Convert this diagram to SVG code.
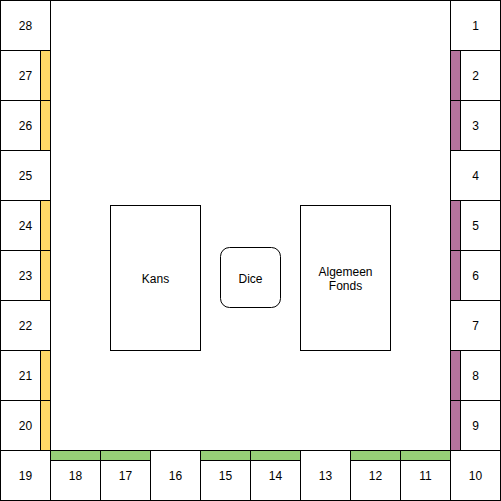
<svg xmlns="http://www.w3.org/2000/svg" width="501" height="501" viewBox="0 0 501 501">
<style>
rect{stroke:#000;stroke-width:1}
.c{fill:#fff}
.y{fill:#FFD966}
.p{fill:#B5739D}
.g{fill:#97D077}
text{font-family:"Liberation Sans",Arial,sans-serif;font-size:12px;fill:#000;text-anchor:middle}
</style>
<rect id="board" x="0.5" y="0.5" width="500" height="500" fill="#fff"/>
<g id="cells">
<g id="c28"><rect class="c" x="0.5" y="0.5" width="50" height="50"/><text x="25.5" y="29.5">28</text></g>
<g id="c27"><rect class="c" x="0.5" y="50.5" width="50" height="50"/><rect class="y" x="40.5" y="50.5" width="10" height="50"/><text x="25.5" y="79.5">27</text></g>
<g id="c26"><rect class="c" x="0.5" y="100.5" width="50" height="50"/><rect class="y" x="40.5" y="100.5" width="10" height="50"/><text x="25.5" y="129.5">26</text></g>
<g id="c25"><rect class="c" x="0.5" y="150.5" width="50" height="50"/><text x="25.5" y="179.5">25</text></g>
<g id="c24"><rect class="c" x="0.5" y="200.5" width="50" height="50"/><rect class="y" x="40.5" y="200.5" width="10" height="50"/><text x="25.5" y="229.5">24</text></g>
<g id="c23"><rect class="c" x="0.5" y="250.5" width="50" height="50"/><rect class="y" x="40.5" y="250.5" width="10" height="50"/><text x="25.5" y="279.5">23</text></g>
<g id="c22"><rect class="c" x="0.5" y="300.5" width="50" height="50"/><text x="25.5" y="329.5">22</text></g>
<g id="c21"><rect class="c" x="0.5" y="350.5" width="50" height="50"/><rect class="y" x="40.5" y="350.5" width="10" height="50"/><text x="25.5" y="379.5">21</text></g>
<g id="c20"><rect class="c" x="0.5" y="400.5" width="50" height="50"/><rect class="y" x="40.5" y="400.5" width="10" height="50"/><text x="25.5" y="429.5">20</text></g>
<g id="c19"><rect class="c" x="0.5" y="450.5" width="50" height="50"/><text x="25.5" y="479.5">19</text></g>
<g id="c18"><rect class="c" x="50.5" y="450.5" width="50" height="50"/><rect class="g" x="50.5" y="450.5" width="50" height="10"/><text x="75.5" y="479.5">18</text></g>
<g id="c17"><rect class="c" x="100.5" y="450.5" width="50" height="50"/><rect class="g" x="100.5" y="450.5" width="50" height="10"/><text x="125.5" y="479.5">17</text></g>
<g id="c16"><rect class="c" x="150.5" y="450.5" width="50" height="50"/><text x="175.5" y="479.5">16</text></g>
<g id="c15"><rect class="c" x="200.5" y="450.5" width="50" height="50"/><rect class="g" x="200.5" y="450.5" width="50" height="10"/><text x="225.5" y="479.5">15</text></g>
<g id="c14"><rect class="c" x="250.5" y="450.5" width="50" height="50"/><rect class="g" x="250.5" y="450.5" width="50" height="10"/><text x="275.5" y="479.5">14</text></g>
<g id="c13"><rect class="c" x="300.5" y="450.5" width="50" height="50"/><text x="325.5" y="479.5">13</text></g>
<g id="c12"><rect class="c" x="350.5" y="450.5" width="50" height="50"/><rect class="g" x="350.5" y="450.5" width="50" height="10"/><text x="375.5" y="479.5">12</text></g>
<g id="c11"><rect class="c" x="400.5" y="450.5" width="50" height="50"/><rect class="g" x="400.5" y="450.5" width="50" height="10"/><text x="425.5" y="479.5">11</text></g>
<g id="c10"><rect class="c" x="450.5" y="450.5" width="50" height="50"/><text x="475.5" y="479.5">10</text></g>
<g id="c1"><rect class="c" x="450.5" y="0.5" width="50" height="50"/><text x="475.5" y="29.5">1</text></g>
<g id="c2"><rect class="c" x="450.5" y="50.5" width="50" height="50"/><rect class="p" x="450.5" y="50.5" width="10" height="50"/><text x="475.5" y="79.5">2</text></g>
<g id="c3"><rect class="c" x="450.5" y="100.5" width="50" height="50"/><rect class="p" x="450.5" y="100.5" width="10" height="50"/><text x="475.5" y="129.5">3</text></g>
<g id="c4"><rect class="c" x="450.5" y="150.5" width="50" height="50"/><text x="475.5" y="179.5">4</text></g>
<g id="c5"><rect class="c" x="450.5" y="200.5" width="50" height="50"/><rect class="p" x="450.5" y="200.5" width="10" height="50"/><text x="475.5" y="229.5">5</text></g>
<g id="c6"><rect class="c" x="450.5" y="250.5" width="50" height="50"/><rect class="p" x="450.5" y="250.5" width="10" height="50"/><text x="475.5" y="279.5">6</text></g>
<g id="c7"><rect class="c" x="450.5" y="300.5" width="50" height="50"/><text x="475.5" y="329.5">7</text></g>
<g id="c8"><rect class="c" x="450.5" y="350.5" width="50" height="50"/><rect class="p" x="450.5" y="350.5" width="10" height="50"/><text x="475.5" y="379.5">8</text></g>
<g id="c9"><rect class="c" x="450.5" y="400.5" width="50" height="50"/><rect class="p" x="450.5" y="400.5" width="10" height="50"/><text x="475.5" y="429.5">9</text></g>
</g>
<g id="kans"><rect class="c" x="110.5" y="205.5" width="90" height="145"/><text x="155.5" y="282.5">Kans</text></g>
<g id="dice"><rect class="c" x="220.5" y="247.5" width="60" height="60" rx="9" ry="9"/><text x="250.5" y="282.5">Dice</text></g>
<g id="fonds"><rect class="c" x="300.5" y="205.5" width="90" height="145"/><text x="345.5" y="275.5">Algemeen</text><text x="345.5" y="289.5">Fonds</text></g>
<g id="connectors"/>
</svg>
